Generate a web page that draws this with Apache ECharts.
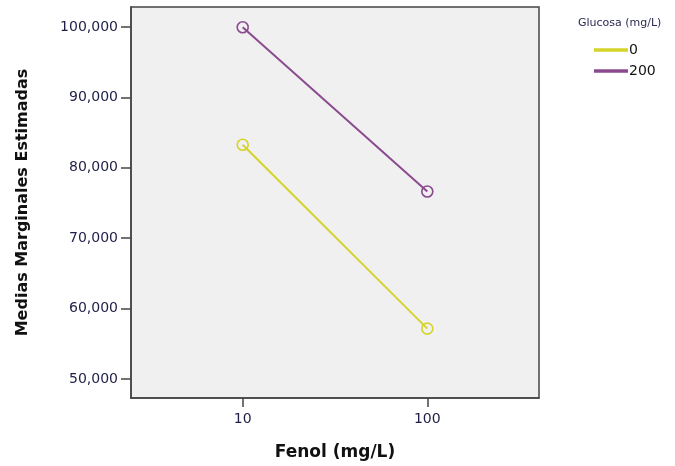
<!DOCTYPE html>
<html>
<head>
<meta charset="UTF-8">
<title>Medias Marginales Estimadas</title>
<script src="https://cdn.jsdelivr.net/npm/echarts@6/dist/echarts.min.js"></script>
<style>
  body { margin: 0; background: #fff; }
  #main { width: 675px; height: 466px; }
</style>
</head>
<body>
<div id="main"></div>
<script type="text/javascript">
  // factor levels / data
  var fenol = ['10', '100'];
  var glucosa = ['0', '200'];
  var medias0 = [83260, 57170];
  var medias200 = [99950, 76630];
  var yTicks = [50000, 60000, 70000, 80000, 90000, 100000];

  var colors = ['#d4d42a', '#8b4a90'];
  var font = 'DejaVu Sans';

  function toPoints(arr) {
    var pts = [];
    for (var i = 0; i < arr.length; i++) {
      pts.push([i, arr[i]]);
    }
    return pts;
  }

  function makeSeries(name, arr, color) {
    return {
      name: name,
      type: 'line',
      data: toPoints(arr),
      symbol: 'circle',
      symbolSize: 11,
      lineStyle: { width: 2, color: color },
      itemStyle: { color: 'rgba(0,0,0,0)', borderColor: color, borderWidth: 1.6 }
    };
  }

  var option = {
    animation: false,
    backgroundColor: '#fff',
    title: {
      text: 'Glucosa (mg/L)',
      left: 573,
      top: 13,
      textStyle: { fontFamily: font, fontSize: 11, fontWeight: 'normal', color: '#2a2a50' }
    },
    legend: {
      orient: 'vertical',
      left: 589,
      top: 38,
      itemGap: 7,
      itemWidth: 32,
      itemHeight: 1.5,
      icon: 'rect',
      data: [
        { name: glucosa[0], itemStyle: { color: colors[0] } },
        { name: glucosa[1], itemStyle: { color: colors[1] } }
      ],
      textStyle: { fontFamily: font, fontSize: 14, color: '#111', padding: [0, 0, 0, -3] }
    },
    grid: {
      left: 131,
      top: 7,
      right: 136,
      bottom: 64,
      show: true,
      backgroundColor: '#f0f0f0',
      borderColor: '#444',
      borderWidth: 1.5
    },
    xAxis: {
      type: 'value',
      min: -0.605,
      max: 1.605,
      name: 'Fenol (mg/L)',
      nameLocation: 'middle',
      nameGap: 46,
      nameTextStyle: { fontFamily: font, fontSize: 17, fontWeight: 'bold', color: '#111' },
      axisLine: { show: true, onZero: false, lineStyle: { color: '#444', width: 1.5 } },
      axisTick: { show: true, length: 9, customValues: [0, 1], lineStyle: { color: '#444', width: 1.5 } },
      axisLabel: {
        customValues: [0, 1],
        margin: 14,
        fontFamily: font,
        fontSize: 14,
        color: '#1e1e48',
        formatter: function (v) { return fenol[Math.round(v)]; }
      },
      splitLine: { show: false }
    },
    yAxis: {
      type: 'value',
      min: 47320,
      max: 102820,
      name: 'Medias Marginales Estimadas',
      nameLocation: 'middle',
      nameGap: 100,
      nameTextStyle: { fontFamily: font, fontSize: 16, fontWeight: 'bold', color: '#111' },
      axisLine: { show: true, onZero: false, lineStyle: { color: '#444', width: 1.5 } },
      axisTick: { show: true, length: 10, customValues: yTicks, lineStyle: { color: '#444', width: 1.5 } },
      axisLabel: {
        customValues: yTicks,
        margin: 13,
        fontFamily: font,
        fontSize: 14,
        color: '#1e1e48',
        formatter: function (v) { return v.toLocaleString('en-US'); }
      },
      splitLine: { show: false }
    },
    series: [
      makeSeries(glucosa[0], medias0, colors[0]),
      makeSeries(glucosa[1], medias200, colors[1])
    ]
  };

  var myChart = echarts.init(document.getElementById('main'));
  myChart.setOption(option);
</script>
</body>
</html>
